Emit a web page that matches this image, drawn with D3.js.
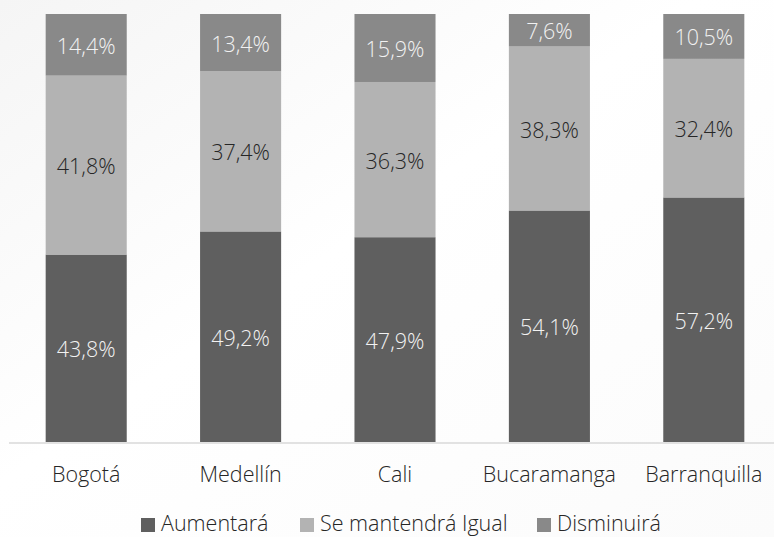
<!DOCTYPE html>
<html><head><meta charset="utf-8">
<script src="https://cdn.jsdelivr.net/npm/d3@7"></script>
<style>
html,body{margin:0;padding:0;background:#fff;}
svg{display:block;font-family:"Open Sans","Segoe UI",sans-serif;font-weight:300;}
</style></head>
<body>
<svg id="c" width="774" height="537"></svg>
<script>
const categories = ["Bogotá","Medellín","Cali","Bucaramanga","Barranquilla"];
const aumentara = [43.8,49.2,47.9,54.1,57.2];
const igual = [41.8,37.4,36.3,38.3,32.4];
const disminuira = [14.4,13.4,15.9,7.6,10.5];
const seriesNames = ["Aumentará","Se mantendrá Igual","Disminuirá"];
const seriesColors = ["#5f5f5f","#b3b3b3","#898989"];
const labelColors = ["#f2f2f2","#262626","#f2f2f2"];

const svg = d3.select("#c");
const W = 774, H = 537;
const FS = 21.5;

// faint background
const defs = svg.append("defs");
const g1 = defs.append("linearGradient").attr("id","bg").attr("x1","0").attr("y1","0").attr("x2","1").attr("y2","1");
g1.append("stop").attr("offset","0").attr("stop-color","#f5f5f5");
g1.append("stop").attr("offset","0.45").attr("stop-color","#ffffff");
g1.append("stop").attr("offset","1").attr("stop-color","#fbfbfb");
svg.append("rect").attr("width",W).attr("height",H).attr("fill","url(#bg)");

const data = categories.map((c,i)=>({cat:c, s0:aumentara[i], s1:igual[i], s2:disminuira[i]}));
const stack = d3.stack().keys(["s0","s1","s2"]).offset(d3.stackOffsetExpand);
const stacked = stack(data);

const x = d3.scaleBand().domain(categories).range([9,781]).paddingInner(0.475).paddingOuter(0.2375);
const y = d3.scaleLinear().domain([0,1]).range([442,14]);

const groups = svg.append("g").selectAll("g").data(stacked).join("g")
  .attr("fill",(d,i)=>seriesColors[i]);
groups.selectAll("rect").data(d=>d).join("rect")
  .attr("x",d=>x(d.data.cat))
  .attr("width",x.bandwidth())
  .attr("y",d=>y(d[1]))
  .attr("height",d=>y(d[0])-y(d[1]));

const vals = [aumentara,igual,disminuira];
stacked.forEach((layer,si)=>{
  svg.append("g").selectAll("text").data(layer).join("text")
    .attr("x",d=>x(d.data.cat)+x.bandwidth()/2)
    .attr("y",d=>(y(d[0])+y(d[1]))/2 + 1.5)
    .attr("dy","0.35em")
    .attr("text-anchor","middle")
    .attr("font-size",FS)
    .attr("fill",labelColors[si])
    .text((d,i)=>vals[si][i].toFixed(1).replace(".",",")+"%");
});

// axis
const xAxis = d3.axisBottom(x).tickSize(0).tickPadding(0);
const ax = svg.append("g").attr("transform","translate(0,443)").call(xAxis)
  .attr("font-family",null).attr("font-size",null);
ax.select(".domain").attr("stroke","#d9d9d9").attr("stroke-width",1.5).attr("d","M9,0H774");
ax.selectAll(".tick text").attr("y",39).attr("dy",null)
  .attr("font-size",FS).attr("fill","#262626");

// legend
const legX = [141,300,537];
const leg = svg.append("g").selectAll("g").data(seriesNames).join("g")
  .attr("transform",(d,i)=>`translate(${legX[i]},0)`);
leg.append("rect").attr("width",14).attr("height",14).attr("y",518).attr("fill",(d,i)=>seriesColors[i]);
leg.append("text").attr("x",20).attr("y",531).attr("font-size",FS).attr("fill","#262626").text(d=>d);
</script>
</body></html>
